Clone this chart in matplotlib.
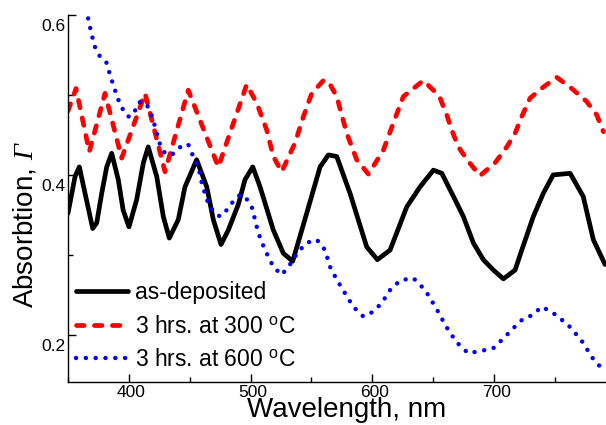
import matplotlib
matplotlib.use("Agg")
import matplotlib.pyplot as plt
from matplotlib.transforms import ScaledTranslation
from matplotlib.ticker import MultipleLocator

plt.rcParams['font.family'] = ['Liberation Sans', 'DejaVu Sans']
plt.rcParams['mathtext.fontset'] = 'custom'
plt.rcParams['mathtext.rm'] = 'Liberation Serif:italic'
plt.rcParams['mathtext.it'] = 'Liberation Serif:italic'
plt.rcParams['mathtext.sf'] = 'Liberation Sans'

# ---- data ----
wl_asdep = [350.0, 355.8, 359.3, 364.0, 370.3, 373.6, 377.7, 381.8, 385.9, 391.3,
            395.3, 400.1, 406.4, 411.9, 415.9, 422.9, 428.3, 433.2, 440.6, 446.1,
            455.7, 464.0, 469.4, 475.7, 481.7, 489.9, 495.4, 501.8, 507.8, 518.7,
            526.9, 534.6, 546.1, 557.1, 563.9, 570.8, 581.7, 595.4, 604.2, 614.6,
            628.3, 639.2, 650.2, 657.1, 668.0, 674.8, 683.0, 691.2, 699.5, 707.7,
            717.3, 722.8, 732.3, 740.5, 748.6, 762.5, 773.3, 781.6, 791.2]
ab_asdep = [0.352, 0.398, 0.410, 0.377, 0.333, 0.340, 0.377, 0.410, 0.427, 0.394,
            0.356, 0.335, 0.369, 0.415, 0.435, 0.398, 0.348, 0.321, 0.344, 0.385,
            0.419, 0.385, 0.344, 0.313, 0.331, 0.363, 0.394, 0.410, 0.385, 0.331,
            0.302, 0.292, 0.352, 0.410, 0.425, 0.423, 0.377, 0.310, 0.294, 0.306,
            0.360, 0.385, 0.406, 0.402, 0.369, 0.348, 0.315, 0.294, 0.281, 0.270,
            0.281, 0.306, 0.348, 0.377, 0.400, 0.402, 0.373, 0.319, 0.288]

wl_300 = [350.0, 356.6, 367.5, 380.4, 394.1, 413.3, 429.7, 448.8, 473.5, 496.8,
          505.0, 513.3, 518.7, 525.6, 536.5, 543.4, 550.3, 559.8, 563.9, 570.8,
          579.0, 587.2, 596.8, 609.1, 617.3, 625.5, 641.9, 652.9, 655.7, 661.2,
          665.3, 670.7, 678.9, 688.5, 700.8, 710.5, 717.3, 722.8, 729.6, 740.6,
          751.6, 763.9, 776.0, 784.4, 789.9]
ab_300 = [0.480, 0.508, 0.429, 0.502, 0.421, 0.502, 0.404, 0.506, 0.410, 0.513,
          0.490, 0.456, 0.423, 0.404, 0.440, 0.473, 0.502, 0.518, 0.517, 0.498,
          0.452, 0.419, 0.401, 0.431, 0.465, 0.498, 0.518, 0.502, 0.496, 0.475,
          0.456, 0.435, 0.417, 0.399, 0.415, 0.435, 0.452, 0.473, 0.496, 0.510,
          0.522, 0.508, 0.492, 0.475, 0.454]

wl_600 = [363.0, 365.9, 369.5, 372.2, 376.3, 381.8, 384.5, 388.6, 391.3, 395.4,
          399.5, 403.6, 407.7, 410.6, 416.0, 419.6, 422.9, 425.6, 429.7, 435.2,
          439.3, 444.7, 448.8, 452.9, 457.1, 459.9, 464.0, 469.4, 474.9, 480.4,
          485.8, 491.3, 495.4, 501.0, 506.4, 511.9, 518.7, 525.6, 532.4, 539.2,
          546.1, 554.4, 561.2, 565.3, 570.8, 577.6, 584.4, 592.6, 600.9, 607.8,
          614.6, 622.8, 633.7, 643.4, 652.6, 660.8, 669.1, 678.7, 689.6, 699.2,
          707.4, 717.0, 723.9, 732.1, 738.9, 747.1, 754.0, 762.3, 771.8, 781.4,
          791.0]
ab_600 = [0.630, 0.600, 0.575, 0.560, 0.548, 0.540, 0.525, 0.506, 0.494, 0.481,
          0.473, 0.475, 0.490, 0.492, 0.485, 0.471, 0.452, 0.438, 0.427, 0.425,
          0.431, 0.438, 0.438, 0.423, 0.410, 0.390, 0.369, 0.354, 0.348, 0.356,
          0.367, 0.375, 0.373, 0.360, 0.327, 0.306, 0.285, 0.275, 0.288, 0.304,
          0.315, 0.319, 0.306, 0.285, 0.269, 0.252, 0.235, 0.223, 0.229, 0.240,
          0.256, 0.268, 0.271, 0.256, 0.233, 0.210, 0.191, 0.177, 0.180, 0.183,
          0.195, 0.210, 0.220, 0.225, 0.235, 0.229, 0.221, 0.210, 0.193, 0.170,
          0.154]

labels = ['as-deposited', '3 hrs. at 300 $^{\\mathsf{o}}$C', '3 hrs. at 600 $^{\\mathsf{o}}$C']
xticks = [400, 500, 600, 700]
yticks = [0.2, 0.4, 0.6]

# ---- figure ----
fig = plt.figure(figsize=(6.06, 4.25), dpi=100)
ax = fig.add_axes([68/606, 1-382/425, 538/606, 367/425])

ax.plot(wl_asdep, ab_asdep, color='black', lw=3.4, solid_capstyle='round',
        solid_joinstyle='round', label=labels[0])
ax.plot(wl_300, ab_300, color='#ff0000', lw=3.4, linestyle=(0, (1.6, 2.2)),
        dash_capstyle='round', label=labels[1])
ax.plot(wl_600, ab_600, color='#0000ff', lw=3.2, linestyle=(0, (0.01, 2.2)),
        dash_capstyle='round', label=labels[2])

ax.set_xlim(350, 792)
ax.set_ylim(0.141, 0.6)
ax.set_xticks(xticks)
ax.set_xticklabels([str(v) for v in xticks])
ax.set_yticks(yticks)
ax.set_yticklabels(['%.1f' % v for v in yticks])
ax.xaxis.set_minor_locator(MultipleLocator(50))
ax.yaxis.set_minor_locator(MultipleLocator(0.1))

for s in ['top', 'right']:
    ax.spines[s].set_visible(False)
for s in ['left', 'bottom']:
    ax.spines[s].set_linewidth(1.0)

ax.tick_params(which='major', direction='in', length=6, width=1.0, labelsize=12.5)
ax.tick_params(which='minor', direction='in', length=3.5, width=1.0)
ax.tick_params(axis='y', pad=1.5)
ax.tick_params(axis='x', pad=2)

ax.set_xlabel('Wavelength, nm', fontsize=20)
ax.xaxis.set_label_coords(0.518, -0.040)
ax.xaxis.label.set_va('top')
ax.set_ylabel('Absorbtion, $\\Gamma$', fontsize=20)
ax.yaxis.set_label_coords(-0.054, 0.43)

leg = ax.legend(loc='upper left', bbox_to_anchor=(0.015, 0.274), frameon=False,
                fontsize=16.5, handlelength=2.25, handletextpad=0.3,
                labelspacing=0.45, borderpad=0, borderaxespad=0)

fig.canvas.draw()
for lbl in ax.get_yticklabels():
    lbl.set_transform(lbl.get_transform() + ScaledTranslation(0, -7/72, fig.dpi_scale_trans))
for lbl in ax.get_xticklabels():
    lbl.set_transform(lbl.get_transform() + ScaledTranslation(1.5/72, 0, fig.dpi_scale_trans))

fig.savefig('out.png', dpi=100)
